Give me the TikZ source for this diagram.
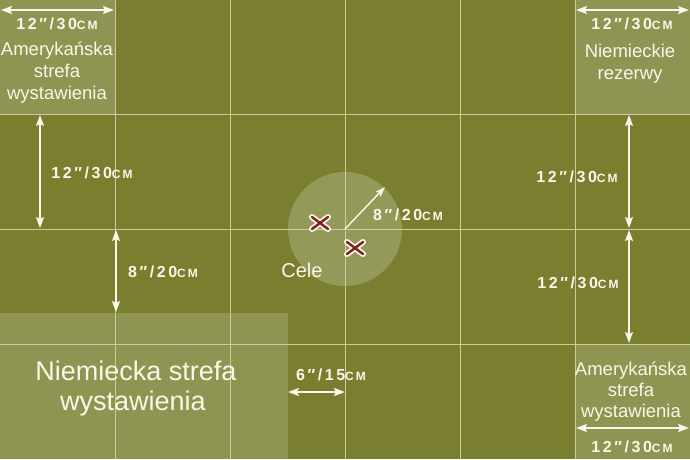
\documentclass[tikz,border=0pt]{standalone}
\usepackage{fontspec}
\setmainfont{Liberation Sans}
\newfontfamily\measfont{Liberation Sans}[LetterSpace=16]
\usetikzlibrary{arrows.meta,calc}
\definecolor{felt}{RGB}{122,127,48}
\definecolor{gridc}{RGB}{205,203,160}
\definecolor{ink}{RGB}{250,247,232}
\definecolor{xred}{RGB}{125,30,40}
\tikzset{
  zone/.style={fill=white,fill opacity=0.17,draw=none},
  gridline/.style={draw=gridc,line width=1pt},
  measure/.style={draw=ink,line width=1.8pt,{Stealth[length=11pt,width=8pt,inset=2pt]}-{Stealth[length=11pt,width=8pt,inset=2pt]}},
  meas/.style={text=ink,font=\measfont\bfseries\fontsize{16}{16}\selectfont,inner sep=0pt},
  zonetext/.style={text=ink,font=\fontsize{18.5}{22}\selectfont,inner sep=0pt,anchor=base},
  bigtext/.style={text=ink,font=\fontsize{27}{30}\selectfont,inner sep=0pt,anchor=base},
  xwhite/.style={draw=ink,line width=6pt,line cap=round},
  xredline/.style={draw=xred,line width=2.4pt,line cap=round},
}
\newcommand\mcm[2]{#1″/#2{\fontsize{12}{12}\selectfont CM}}
\begin{document}
\begin{tikzpicture}[x=1pt,y=-1pt]
\useasboundingbox (0,0) rectangle (690,459);
\fill[felt] (0,0) rectangle (690,459);
% zones
\fill[zone] (0,0) rectangle (115,114);
\fill[zone] (575,0) rectangle (690,114);
\fill[zone] (575,344) rectangle (690,459);
\fill[zone] (0,313) rectangle (288,459);
% objective circle
\fill[white,fill opacity=0.2] (345,229) circle (57);
% grid
\foreach \gx in {115,230,345,460,575} \draw[gridline] (\gx,0) -- (\gx,459);
\foreach \gy in {114,229,344} \draw[gridline] (0,\gy) -- (690,\gy);

% coordinates for measures
\coordinate (tlA) at (1,10); \coordinate (tlB) at (114,10);
\coordinate (trA) at (576,10); \coordinate (trB) at (689,10);
\coordinate (brA) at (576,428); \coordinate (brB) at (689,428);
\coordinate (l1A) at (40,115); \coordinate (l1B) at (40,228);
\coordinate (l2A) at (116,230); \coordinate (l2B) at (116,312);
\coordinate (r1A) at (629,115); \coordinate (r1B) at (629,228);
\coordinate (r2A) at (629,230); \coordinate (r2B) at (629,343);
\coordinate (bA) at (288,392); \coordinate (bB) at (345,392);
\coordinate (cc) at (345,229); \coordinate (ctip) at (385,187);

\draw[measure] (tlA) -- (tlB);
\draw[measure] (trA) -- (trB);
\draw[measure] (brA) -- (brB);
\draw[measure] (l1A) -- (l1B);
\draw[measure] (l2A) -- (l2B);
\draw[measure] (r1A) -- (r1B);
\draw[measure] (r2A) -- (r2B);
\draw[measure] (bA) -- (bB);
\draw[draw=ink,line width=1.4pt,-{Stealth[length=10pt,width=7pt,inset=2pt]}] (cc) -- (ctip);

% measure labels
\node[meas] (mtl) at (57,24) {\mcm{12}{30}};
\node[meas] (mtr) at (632,24) {\mcm{12}{30}};
\node[meas] (mbr) at (632,447) {\mcm{12}{30}};
\node[meas] (ml1) at (92,173) {\mcm{12}{30}};
\node[meas] (ml2) at (163,272) {\mcm{8}{20}};
\node[meas] (mr1) at (577,177) {\mcm{12}{30}};
\node[meas] (mr2) at (578,283) {\mcm{12}{30}};
\node[meas] (mb) at (331,375) {\mcm{6}{15}};
\node[meas] (mc) at (408,215) {\mcm{8}{20}};

% zone texts
\node[zonetext] (tl1) at (57,55) {Amerykańska};
\node[zonetext] (tl2) at (57,77) {strefa};
\node[zonetext] (tl3) at (57,99) {wystawienia};
\node[zonetext] (tr1) at (630,57) {Niemieckie};
\node[zonetext] (tr2) at (630,79) {rezerwy};
\node[zonetext] (br1) at (631,375) {Amerykańska};
\node[zonetext] (br2) at (631,396) {strefa};
\node[zonetext] (br3) at (631,417) {wystawienia};
\node[bigtext] (bl1) at (136,380) {Niemiecka strefa};
\node[bigtext] (bl2) at (133,410) {wystawienia};
\node[text=ink,font=\fontsize{20}{22}\selectfont,inner sep=0pt] (cele) at (302,270) {Cele};

% objective markers
\coordinate (x1) at (320,223);
\coordinate (x2) at (355,248);
\foreach \c in {x1,x2}{
  \draw[xwhite] ($(\c)+(-8,-6)$) -- ($(\c)+(8,6)$);
  \draw[xwhite] ($(\c)+(-8,6)$) -- ($(\c)+(8,-6)$);
  \draw[xredline] ($(\c)+(-8,-6)$) -- ($(\c)+(8,6)$);
  \draw[xredline] ($(\c)+(-8,6)$) -- ($(\c)+(8,-6)$);
}
\end{tikzpicture}
\end{document}
